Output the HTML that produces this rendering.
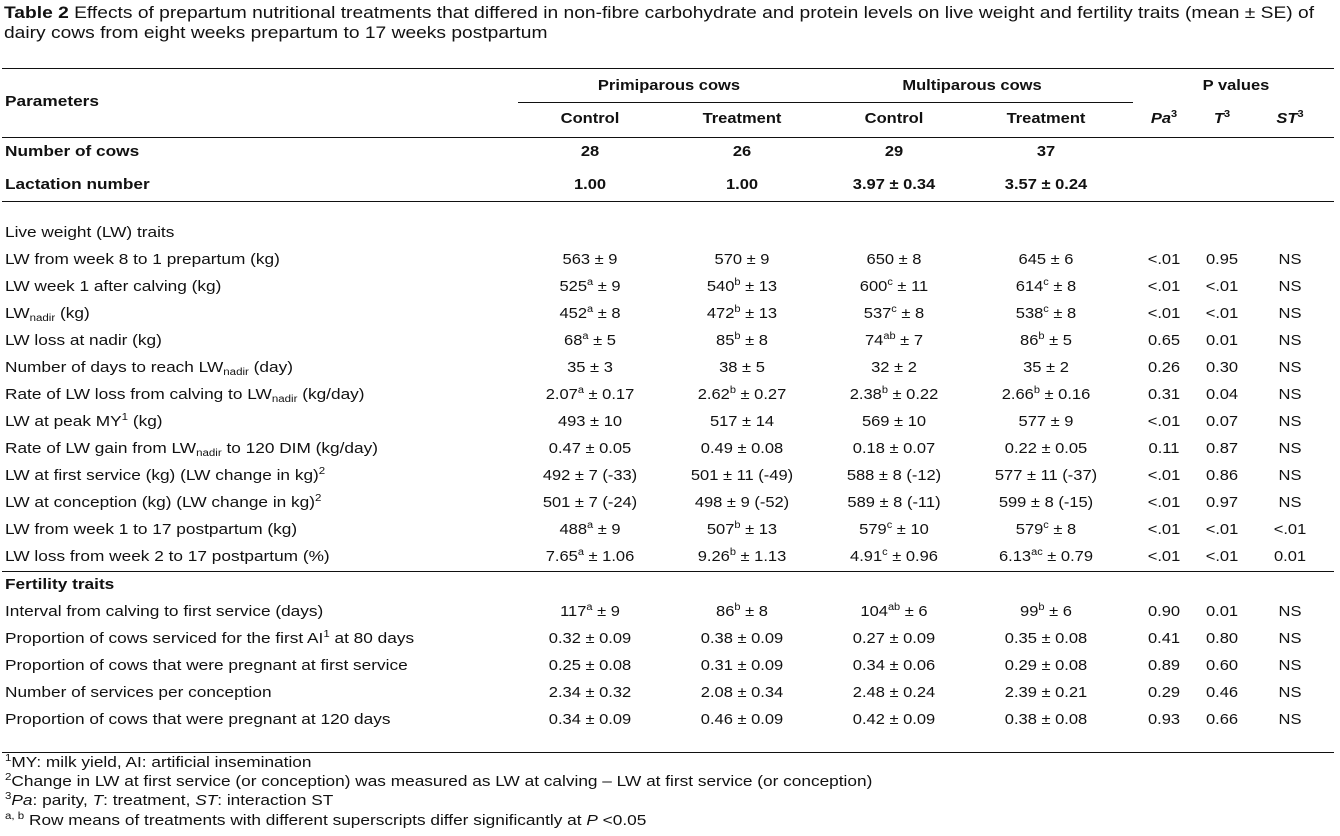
<!DOCTYPE html>
<html><head><meta charset="utf-8">
<style>
body{margin:0;width:1340px;height:836px;background:#fff;font-family:"Liberation Sans",Arial,sans-serif;color:#111;position:relative;overflow:hidden}
.t{position:absolute;white-space:nowrap;font-size:15px;line-height:18px;transform:translateY(-9px) scaleX(1.15);transform-origin:0 50%}
.c{transform:translate(-50%,-9px) scaleX(1.1);transform-origin:50% 50%}
.b{font-weight:bold}
.hl{position:absolute;height:1.3px;background:#111}
sup{font-size:10px;vertical-align:6px;line-height:0}
sub{font-size:10px;vertical-align:-3px;line-height:0}
#title{position:absolute;left:4px;top:3px;font-size:17px;line-height:20px;white-space:nowrap;transform:scaleX(1.13);transform-origin:0 0}
</style></head><body>
<div id="title"><b>Table 2</b> Effects of prepartum nutritional treatments that differed in non-fibre carbohydrate and protein levels on live weight and fertility traits (mean ± SE) of<br>dairy cows from eight weeks prepartum to 17 weeks postpartum</div>
<div id="tbl"></div>
<script>
const cols=[590,742,894,1046,1164,1222,1290];
const header=[
 [86,'Primiparous cows',669,'b'],[86,'Multiparous cows',972,'b'],[86,'P values',1236,'b'],
 [119,'Control',590,'b'],[119,'Treatment',742,'b'],[119,'Control',894,'b'],[119,'Treatment',1046,'b'],
 [119,'<i>Pa</i><sup>3</sup>',1164,'b'],[119,'<i>T</i><sup>3</sup>',1222,'b'],[119,'<i>ST</i><sup>3</sup>',1290,'b']
];
const rowLabels=['Number of cows','Lactation number','Live weight (LW) traits',
'LW from week 8 to 1 prepartum (kg)','LW week 1 after calving (kg)','LW<sub>nadir</sub> (kg)','LW loss at nadir (kg)',
'Number of days to reach LW<sub>nadir</sub> (day)','Rate of LW loss from calving to LW<sub>nadir</sub> (kg/day)','LW at peak MY<sup>1</sup> (kg)',
'Rate of LW gain from LW<sub>nadir</sub> to 120 DIM (kg/day)','LW at first service (kg) (LW change in kg)<sup>2</sup>','LW at conception (kg) (LW change in kg)<sup>2</sup>',
'LW from week 1 to 17 postpartum (kg)','LW loss from week 2 to 17 postpartum (%)','Fertility traits',
'Interval from calving to first service (days)','Proportion of cows serviced for the first AI<sup>1</sup> at 80 days','Proportion of cows that were pregnant at first service',
'Number of services per conception','Proportion of cows that were pregnant at 120 days'];
const rowY=[152,185,233,260,287,314,341,368,395,422,449,476,503,530,557,585,612,639,666,693,720];
const rowValues=[
['28','26','29','37'],['1.00','1.00','3.97 ± 0.34','3.57 ± 0.24'],[],
['563 ± 9','570 ± 9','650 ± 8','645 ± 6','<.01','0.95','NS'],
['525<sup>a</sup> ± 9','540<sup>b</sup> ± 13','600<sup>c</sup> ± 11','614<sup>c</sup> ± 8','<.01','<.01','NS'],
['452<sup>a</sup> ± 8','472<sup>b</sup> ± 13','537<sup>c</sup> ± 8','538<sup>c</sup> ± 8','<.01','<.01','NS'],
['68<sup>a</sup> ± 5','85<sup>b</sup> ± 8','74<sup>ab</sup> ± 7','86<sup>b</sup> ± 5','0.65','0.01','NS'],
['35 ± 3','38 ± 5','32 ± 2','35 ± 2','0.26','0.30','NS'],
['2.07<sup>a</sup> ± 0.17','2.62<sup>b</sup> ± 0.27','2.38<sup>b</sup> ± 0.22','2.66<sup>b</sup> ± 0.16','0.31','0.04','NS'],
['493 ± 10','517 ± 14','569 ± 10','577 ± 9','<.01','0.07','NS'],
['0.47 ± 0.05','0.49 ± 0.08','0.18 ± 0.07','0.22 ± 0.05','0.11','0.87','NS'],
['492 ± 7 (-33)','501 ± 11 (-49)','588 ± 8 (-12)','577 ± 11 (-37)','<.01','0.86','NS'],
['501 ± 7 (-24)','498 ± 9 (-52)','589 ± 8 (-11)','599 ± 8 (-15)','<.01','0.97','NS'],
['488<sup>a</sup> ± 9','507<sup>b</sup> ± 13','579<sup>c</sup> ± 10','579<sup>c</sup> ± 8','<.01','<.01','<.01'],
['7.65<sup>a</sup> ± 1.06','9.26<sup>b</sup> ± 1.13','4.91<sup>c</sup> ± 0.96','6.13<sup>ac</sup> ± 0.79','<.01','<.01','0.01'],
[],
['117<sup>a</sup> ± 9','86<sup>b</sup> ± 8','104<sup>ab</sup> ± 6','99<sup>b</sup> ± 6','0.90','0.01','NS'],
['0.32 ± 0.09','0.38 ± 0.09','0.27 ± 0.09','0.35 ± 0.08','0.41','0.80','NS'],
['0.25 ± 0.08','0.31 ± 0.09','0.34 ± 0.06','0.29 ± 0.08','0.89','0.60','NS'],
['2.34 ± 0.32','2.08 ± 0.34','2.48 ± 0.24','2.39 ± 0.21','0.29','0.46','NS'],
['0.34 ± 0.09','0.46 ± 0.09','0.42 ± 0.09','0.38 ± 0.08','0.93','0.66','NS']];
const boldRows=[0,1,15];
const footnotes=['<sup>1</sup>MY: milk yield, AI: artificial insemination',
'<sup>2</sup>Change in LW at first service (or conception) was measured as LW at calving – LW at first service (or conception)',
'<sup>3</sup><i>Pa</i>: parity, <i>T</i>: treatment, <i>ST</i>: interaction ST',
'<sup>a, b</sup> Row means of treatments with different superscripts differ significantly at <i>P</i> &lt;0.05'];
const footY=[763,782,801,821];
const root=document.getElementById('tbl');
function txt(html,x,y,center,bold){const d=document.createElement('div');d.className='t'+(center?' c':'')+(bold?' b':'');d.style.left=x+'px';d.style.top=y+'px';d.innerHTML=html;root.appendChild(d);return d;}
function line(x1,x2,y){const d=document.createElement('div');d.className='hl';d.style.left=x1+'px';d.style.width=(x2-x1)+'px';d.style.top=y+'px';root.appendChild(d);

}
[68,137,201,571,752].forEach(y=>line(2,1334,y));
line(518,1133,102);
const ph=txt('Parameters',5,102,false,true);


header.forEach(h=>{const d=txt(h[1],h[2],h[0],true,h[3]==='b');

});
rowLabels.forEach((l,i)=>{const d=txt(l,5,rowY[i],false,boldRows.includes(i));


rowValues[i].forEach((v,j)=>{const c=txt(v,cols[j],rowY[i],true,i<2);

});});
footnotes.forEach((f,i)=>{const d=txt(f,5,footY[i],false,false);

});
</script>
</body></html>
